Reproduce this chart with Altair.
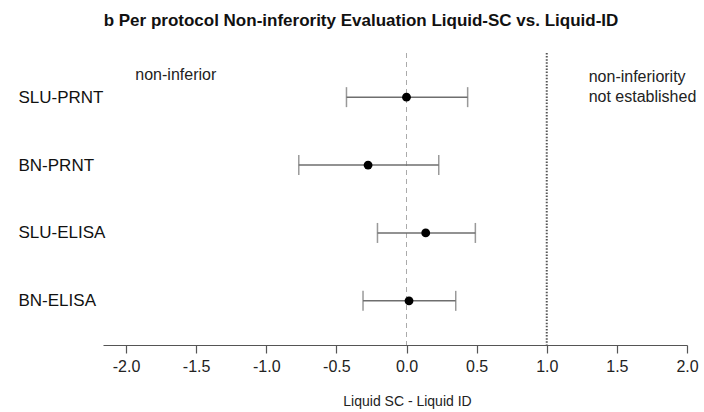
import altair as alt
import pandas as pd

# ---- data ----
assays = ["SLU-PRNT", "BN-PRNT", "SLU-ELISA", "BN-ELISA"]
estimate = [0.0, -0.274, 0.137, 0.018]
lower = [-0.428, -0.768, -0.207, -0.310]
upper = [0.436, 0.230, 0.491, 0.351]
x_ticks = [-2.0, -1.5, -1.0, -0.5, 0.0, 0.5, 1.0, 1.5, 2.0]
null_line = [0.0]
margin_line = [1.0]
left_note = ["non-inferior"]
right_note_1 = ["non-inferiority"]
right_note_2 = ["not established"]

df = pd.DataFrame({"assay": assays, "est": estimate, "lo": lower, "hi": upper})

FONT = "Liberation Sans"
xscale = alt.Scale(domain=[-2.164, 2.0], nice=False, zero=False)
yscale = alt.Scale(type="point", domain=assays, padding=0.65)

x_axis = alt.Axis(
    values=x_ticks,
    labelExpr="(datum.value < 0 ? '-' : '') + format(abs(datum.value), '.1f')",
    tickSize=8, labelFontSize=16, labelFont=FONT, labelColor="#222",
    domainColor="#555", tickColor="#555", domainWidth=1.2, tickWidth=1.2,
    grid=False, labelPadding=5, labelFlush=False,
    title="Liquid SC - Liquid ID", titleFontSize=14, titleFont=FONT,
    titleFontWeight="normal", titleColor="#222",
    titleX=304, titleY=56, titleAlign="center", titleBaseline="middle",
)
y_axis = alt.Axis(
    orient="left", ticks=False, tickSize=0, domain=False, grid=False,
    labelAlign="left", labelPadding=85, labelFontSize=17, labelFont=FONT,
    labelColor="#111", labelBaseline="middle", title=None,
)

base = alt.Chart(df)

ref0 = alt.Chart(pd.DataFrame({"v": null_line})).mark_rule(
    color="#aaaaaa", strokeDash=[5, 4], strokeWidth=1
).encode(x=alt.X("v:Q", scale=xscale, axis=x_axis))

ref1 = alt.Chart(pd.DataFrame({"v": margin_line})).mark_rule(
    color="#555555", strokeDash=[1.5, 1.6], strokeWidth=2
).encode(x=alt.X("v:Q", scale=xscale))

bars = base.mark_rule(color="#6e6e6e", strokeWidth=1.5).encode(
    x=alt.X("lo:Q", scale=xscale),
    x2="hi:Q",
    y=alt.Y("assay:N", scale=yscale, axis=y_axis),
)
caps_lo = base.mark_tick(color="#6e6e6e", thickness=1.5, size=20).encode(
    x=alt.X("lo:Q", scale=xscale), y=alt.Y("assay:N", scale=yscale)
)
caps_hi = base.mark_tick(color="#6e6e6e", thickness=1.5, size=20).encode(
    x=alt.X("hi:Q", scale=xscale), y=alt.Y("assay:N", scale=yscale)
)
points = base.mark_circle(color="black", size=78, opacity=1).encode(
    x=alt.X("est:Q", scale=xscale), y=alt.Y("assay:N", scale=yscale)
)

note_l = alt.Chart(pd.DataFrame({"t": left_note})).mark_text(
    font=FONT, fontSize=16, color="#222", align="center", baseline="middle", dy=-22
).encode(x=alt.datum(-1.645), y=alt.datum(assays[0]), text="t:N")
note_r1 = alt.Chart(pd.DataFrame({"t": right_note_1})).mark_text(
    font=FONT, fontSize=16, color="#222", align="left", baseline="middle", dy=-20
).encode(x=alt.datum(1.299), y=alt.datum(assays[0]), text="t:N")
note_r2 = alt.Chart(pd.DataFrame({"t": right_note_2})).mark_text(
    font=FONT, fontSize=16, color="#222", align="left", baseline="middle", dy=0
).encode(x=alt.datum(1.299), y=alt.datum(assays[0]), text="t:N")

chart = alt.layer(
    ref0, ref1, bars, caps_lo, caps_hi, points, note_l, note_r1, note_r2
).properties(
    width=584, height=292,
    autosize=alt.AutoSizeParams(type="none"),
    padding={"left": 103, "top": 53, "right": 17, "bottom": 67},
    title=alt.TitleParams(
        "b Per protocol Non-inferority Evaluation Liquid-SC vs. Liquid-ID",
        font=FONT, fontSize=17, fontWeight="bold", color="#111",
        anchor="middle", frame="group", dx=-34, offset=9, baseline="alphabetic",
    ),
).configure_view(stroke=None)

chart.save("out.html", embed_options={"renderer": "svg", "actions": False})
